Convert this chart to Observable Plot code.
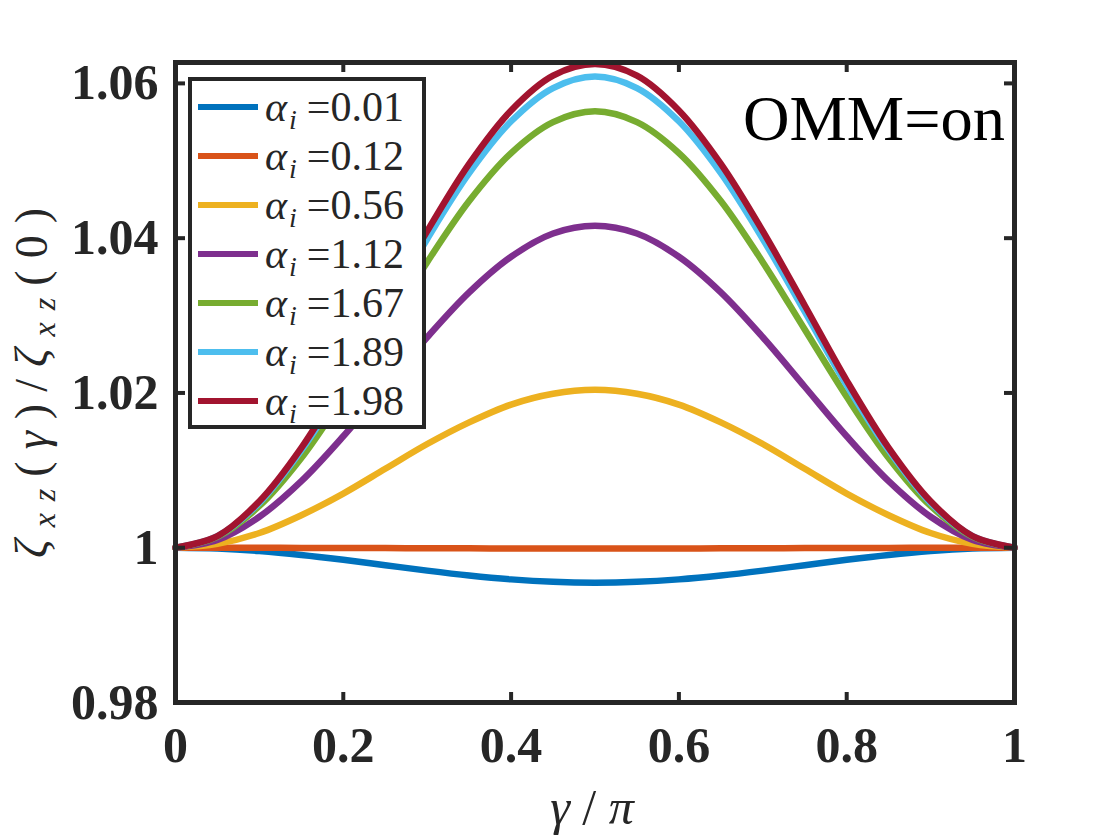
<!DOCTYPE html>
<html>
<head>
<meta charset="utf-8">
<script src="https://cdn.jsdelivr.net/npm/d3@7"></script>
<script src="https://cdn.jsdelivr.net/npm/@observablehq/plot@0.6"></script>
<style>
  html, body { margin: 0; padding: 0; background: #fff; }
  #wrap { position: relative; width: 1120px; height: 840px; overflow: hidden; }
  #legend {
    position: absolute; left: 188px; top: 77px; width: 238px; height: 352px;
    box-sizing: border-box; border: 4px solid #262626; background: #fff;
    font-family: "Liberation Serif", "Times New Roman", Tinos, "DejaVu Serif", serif; color: #262626;
  }
  .row { position: absolute; left: 0; height: 40px; width: 100%; }
  .swatch { position: absolute; left: 6px; top: 17px; width: 60px; height: 6px; }
  .lab { position: absolute; left: 73px; top: 0; font-size: 42px; line-height: 40px; white-space: nowrap; }
  .lab i { font-style: italic; }
  .lab sub { font-size: 28px; font-style: italic; vertical-align: -8px; line-height: 0; margin-left: 2px; margin-right: 10px; }
</style>
</head>
<body>
<div id="wrap"></div>
<script>
// ---- data ----
const gammaVals = [0, 0.05, 0.1, 0.15, 0.2, 0.25, 0.3, 0.35, 0.4, 0.45, 0.5,
                   0.55, 0.6, 0.65, 0.7, 0.75, 0.8, 0.85, 0.9, 0.95, 1];

const alphaLabels = ["0.01", "0.12", "0.56", "1.12", "1.67", "1.89", "1.98"];
const seriesColors = ["#0072BD", "#D95319", "#EDB120", "#7E2F8E", "#77AC30", "#4DBEEE", "#A2142F"];

const ratio001 = [1, 0.99989, 0.99957, 0.99907, 0.99844, 0.99774, 0.99704, 0.99641, 0.99591, 0.99559, 0.99548,
                  0.99559, 0.99591, 0.99641, 0.99704, 0.99774, 0.99844, 0.99907, 0.99957, 0.99989, 1];
const ratio012 = [1, 1.0000, 0.99999, 0.99998, 0.99997, 0.99995, 0.99993, 0.99992, 0.99991, 0.9999, 0.9999,
                  0.9999, 0.99991, 0.99992, 0.99993, 0.99995, 0.99997, 0.99998, 0.99999, 1.0000, 1];
const ratio056 = [1, 1.0005, 1.0019, 1.0042, 1.0070, 1.0102, 1.0134, 1.0162, 1.0185, 1.0199, 1.0204,
                  1.0199, 1.0185, 1.0162, 1.0134, 1.0102, 1.0070, 1.0042, 1.0019, 1.0005, 1];
const ratio112 = [1, 1.0010, 1.0040, 1.0086, 1.0144, 1.0208, 1.0272, 1.0330, 1.0376, 1.0406, 1.0416,
                  1.0406, 1.0376, 1.0330, 1.0272, 1.0208, 1.0144, 1.0086, 1.0040, 1.0010, 1];
const ratio167 = [1, 1.0014, 1.0054, 1.0116, 1.0195, 1.0282, 1.0369, 1.0448, 1.0510, 1.0550, 1.0564,
                  1.0550, 1.0510, 1.0448, 1.0369, 1.0282, 1.0195, 1.0116, 1.0054, 1.0014, 1];
const ratio189 = [1, 1.0015, 1.0058, 1.0126, 1.0210, 1.0305, 1.0399, 1.0484, 1.0551, 1.0594, 1.0609,
                  1.0594, 1.0551, 1.0484, 1.0399, 1.0305, 1.0210, 1.0126, 1.0058, 1.0015, 1];
const ratio198 = [1, 1.0015, 1.0060, 1.0129, 1.0216, 1.0313, 1.0409, 1.0496, 1.0565, 1.0610, 1.0625,
                  1.0610, 1.0565, 1.0496, 1.0409, 1.0313, 1.0216, 1.0129, 1.0060, 1.0015, 1];

const xTicks = [0, 0.2, 0.4, 0.6, 0.8, 1];
const xTickLabels = ["0", "0.2", "0.4", "0.6", "0.8", "1"];
const yTicks = [0.98, 1, 1.02, 1.04, 1.06];
const yTickLabels = ["0.98", "1", "1.02", "1.04", "1.06"];

// ---- build table ----
const allSeries = [ratio001, ratio012, ratio056, ratio112, ratio167, ratio189, ratio198];
const rows = allSeries.flatMap((vals, s) =>
  vals.map((v, i) => ({gamma: gammaVals[i], ratio: v, alpha: alphaLabels[s]})));

const xLab = new Map(xTicks.map((t, i) => [t, xTickLabels[i]]));
const yLab = new Map(yTicks.map((t, i) => [t, yTickLabels[i]]));

const serif = '"Liberation Serif", "Times New Roman", Tinos, "DejaVu Serif", serif';
const ink = "#262626";
const W = 1120, H = 840, mL = 175, mR = 106, mT = 62, mB = 138;
const innerW = W - mL - mR, innerH = H - mT - mB;
const tickLen = 10;

const chart = Plot.plot({
  width: W, height: H,
  marginLeft: mL, marginRight: mR, marginTop: mT, marginBottom: mB,
  style: {fontFamily: serif, fontSize: "50px", fontWeight: "bold", color: ink, background: "#fff", overflow: "visible"},
  x: {domain: [0, 1], label: null},
  y: {domain: [0.98, 1.0627], label: null},
  color: {domain: alphaLabels, range: seriesColors},
  marks: [
    Plot.axisX(xTicks, {tickSize: 0, tickPadding: 24, tickFormat: d => xLab.get(d), label: null}),
    Plot.axisY(yTicks, {tickSize: 0, tickPadding: 17, tickFormat: d => yLab.get(d), label: null}),
    Plot.line(rows, {x: "gamma", y: "ratio", z: "alpha", stroke: "alpha", strokeWidth: 6.5, curve: "catmull-rom", strokeLinejoin: "round"}),
    Plot.tickX(xTicks, {x: d => d, insetTop: innerH - tickLen, stroke: ink, strokeWidth: 4}),
    Plot.tickX(xTicks, {x: d => d, insetBottom: innerH - tickLen, stroke: ink, strokeWidth: 4}),
    Plot.tickY(yTicks, {y: d => d, insetRight: innerW - tickLen, stroke: ink, strokeWidth: 4}),
    Plot.tickY(yTicks, {y: d => d, insetLeft: innerW - tickLen, stroke: ink, strokeWidth: 4}),
    Plot.frame({stroke: ink, strokeWidth: 5})
  ]
});

const wrap = document.getElementById("wrap");
wrap.appendChild(chart);

// ---- annotations as text ----
const svg = d3.select(chart);
svg.append("text")
  .attr("x", 1005).attr("y", 140)
  .attr("text-anchor", "end")
  .style("font-family", serif).attr("font-size", 64).attr("font-weight", "normal")
  .attr("fill", "#000")
  .attr("textLength", 262).attr("lengthAdjust", "spacingAndGlyphs")
  .text("OMM=on");

// y label
const yl = svg.append("text")
  .attr("transform", "translate(47,383) rotate(-90)")
  .attr("text-anchor", "middle")
  .style("font-family", serif).attr("font-size", 46).attr("font-weight", "normal")
  .attr("fill", ink)
  .attr("textLength", 350).attr("lengthAdjust", "spacing");
yl.append("tspan").attr("font-style", "italic").text("ζ");
yl.append("tspan").attr("font-style", "italic").attr("font-size", 32).attr("dy", 8).text("xz");
yl.append("tspan").attr("dy", -8).text("(");
yl.append("tspan").attr("font-style", "italic").text("γ");
yl.append("tspan").text(")/");
yl.append("tspan").attr("font-style", "italic").text("ζ");
yl.append("tspan").attr("font-style", "italic").attr("font-size", 32).attr("dy", 8).text("xz");
yl.append("tspan").attr("dy", -8).text("(0)");

// x label
const xl = svg.append("text")
  .attr("x", 592).attr("y", 824)
  .attr("text-anchor", "middle")
  .style("font-family", serif).attr("font-size", 50).attr("font-weight", "normal")
  .attr("fill", ink);
xl.append("tspan").attr("font-style", "italic").text("γ");
xl.append("tspan").text(" / ");
xl.append("tspan").attr("font-style", "italic").text("π");

// ---- legend ----
const legend = document.createElement("div");
legend.id = "legend";
const centers0 = 106.7 - 77 - 4;
alphaLabels.forEach((a, i) => {
  const row = document.createElement("div");
  row.className = "row";
  row.style.top = (centers0 + i * 49.1 - 20) + "px";
  const sw = document.createElement("div");
  sw.className = "swatch";
  sw.style.background = seriesColors[i];
  const lab = document.createElement("div");
  lab.className = "lab";
  lab.innerHTML = "<i>α</i><sub>i</sub>=" + a;
  row.appendChild(sw);
  row.appendChild(lab);
  legend.appendChild(row);
});
wrap.appendChild(legend);
</script>
</body>
</html>
